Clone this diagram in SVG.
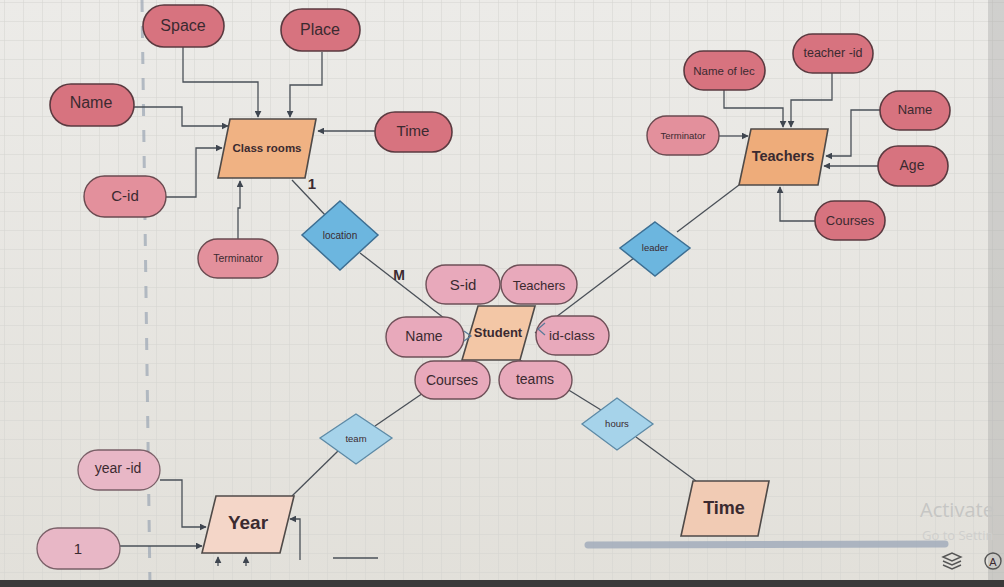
<svg xmlns="http://www.w3.org/2000/svg" width="1004" height="587" viewBox="0 0 1004 587">
<defs>
<pattern id="grid" width="19" height="19" patternUnits="userSpaceOnUse" x="4" y="2">
<path d="M19 0H0V19" fill="none" stroke="#d3d3cf" stroke-width="1"/>
</pattern>
<linearGradient id="bg" x1="0" y1="0" x2="0" y2="1">
<stop offset="0" stop-color="#ecebe8"/>
<stop offset="1" stop-color="#e2e0da"/>
</linearGradient>
<marker id="arr" viewBox="0 0 10 10" refX="9" refY="5" markerWidth="7" markerHeight="7" orient="auto" markerUnits="userSpaceOnUse">
<path d="M0 0L10 5L0 10z" fill="#3f4650"/>
</marker>
</defs>
<style>
.pd{fill:#d7737f;stroke:#5b3a40;stroke-width:1.6}
.pm{fill:#e3909c;stroke:#6a4a50;stroke-width:1.4}
.pl{fill:#e8a9bb;stroke:#6e5058;stroke-width:1.4}
.pv{fill:#e8b7c6;stroke:#7a6068;stroke-width:1.3}
.ent{stroke:#4f4a48;stroke-width:1.6}
.dia{fill:#6cb6df;stroke:#3d6f93;stroke-width:1.5}
.dial{fill:#a6d3ea;stroke:#5d8aa6;stroke-width:1.3}
.t{font-family:"Liberation Sans",Arial,sans-serif;fill:#3b2a30;text-anchor:middle;dominant-baseline:central}
.b{font-weight:bold}
.c{fill:none;stroke:#4a5058;stroke-width:1.3}
.ca{fill:none;stroke:#4a5058;stroke-width:1.3;marker-end:url(#arr)}
</style>
<rect width="1004" height="587" fill="url(#bg)"/>
<rect width="1004" height="587" fill="url(#grid)"/>
<line x1="142" y1="0" x2="150" y2="587" stroke="#9ba6b4" stroke-width="3" stroke-dasharray="12 14" opacity="0.7"/>
<rect x="988" y="0" width="16" height="587" fill="#9d9e9f" opacity="0.35"/>
<rect x="0" y="580" width="1004" height="7" fill="#3a3a3a"/>

<g id="connectors">
<path class="ca" d="M183 47V82H258V117"/>
<path class="ca" d="M322 52V85H290V117"/>
<path class="ca" d="M134 107H182V126H228"/>
<path class="ca" d="M375 131H318"/>
<path class="ca" d="M166 197H196V148H222"/>
<path class="ca" d="M238 239V208H240V181"/>
<path class="c" d="M292 180L326 216"/>
<path class="c" d="M360 253L462 332"/>
<path class="ca" d="M724 90V108H783V127"/>
<path class="ca" d="M832 73V100H791V127"/>
<path class="ca" d="M880 110H851V156H826"/>
<path class="ca" d="M719 136H748"/>
<path class="ca" d="M878 166H824"/>
<path class="ca" d="M815 221H780V187"/>
<path class="c" d="M739 185L677 232"/>
<path class="c" d="M634 258L535 333"/>
<path class="c" d="M445 378L375 426"/>
<path class="c" d="M338 451L292 496"/>
<path class="c" d="M520 360L601 410"/>
<path class="c" d="M636 437L696 481"/>
<path class="ca" d="M160 480H182V527H206"/>
<path class="ca" d="M120 546H202"/>
<path class="ca" d="M218 566V557"/>
<path class="ca" d="M246 566V557"/>
<path class="ca" d="M300 560V519H290"/>
<path class="c" d="M333 558H378" stroke="#777"/>
</g>

<g id="classrooms">
<path class="ent" d="M230 119H316L305 178H218Z" fill="#f0b283"/>
<text class="t b" x="267" y="148" font-size="11.5">Class rooms</text>
</g>
<g id="space"><rect class="pd" x="143" y="5" width="81" height="42" rx="21"/><text class="t" x="183" y="25" font-size="16">Space</text></g>
<g id="place"><rect class="pd" x="281" y="9" width="79" height="42" rx="21"/><text class="t" x="320" y="29" font-size="16">Place</text></g>
<g id="name-class"><rect class="pd" x="50" y="84" width="84" height="42" rx="21"/><text class="t" x="91" y="102" font-size="16">Name</text></g>
<g id="time-attr"><rect class="pd" x="375" y="112" width="77" height="40" rx="20"/><text class="t" x="413" y="130" font-size="15">Time</text></g>
<g id="cid"><rect class="pm" x="84" y="176" width="82" height="41" rx="20.5"/><text class="t" x="125" y="195" font-size="15">C-id</text></g>
<g id="terminator-class"><rect class="pm" x="198" y="239" width="80" height="39" rx="19.5"/><text class="t" x="238" y="258" font-size="10.5">Terminator</text></g>
<g id="location"><path class="dia" d="M340 201L378 235L340 270L302 235Z"/><text class="t" x="340" y="235" font-size="10" fill="#2d4a66">location</text></g>
<text class="t b" x="312" y="183" font-size="15" fill="#2b3038">1</text>
<text class="t b" x="399" y="275" font-size="14" fill="#2b3038">M</text>

<g id="teachers">
<path class="ent" d="M751 129H828L818 185H739Z" fill="#eeac7a"/>
<text class="t b" x="783" y="156" font-size="14.5">Teachers</text>
</g>
<g id="name-of-lec"><rect class="pd" x="684" y="51" width="81" height="39" rx="19.5"/><text class="t" x="724" y="71" font-size="11.5">Name  of lec</text></g>
<g id="teacher-id"><rect class="pd" x="793" y="34" width="80" height="39" rx="19.5"/><text class="t" x="833" y="53" font-size="12.5">teacher -id</text></g>
<g id="name-teacher"><rect class="pd" x="880" y="91" width="70" height="39" rx="19.5"/><text class="t" x="915" y="109" font-size="13">Name</text></g>
<g id="terminator-teacher"><rect class="pm" x="647" y="116" width="72" height="39" rx="19.5"/><text class="t" x="683" y="135" font-size="9.5">Terminator</text></g>
<g id="age"><rect class="pd" x="878" y="146" width="70" height="40" rx="20"/><text class="t" x="912" y="165" font-size="14">Age</text></g>
<g id="courses-teacher"><rect class="pd" x="815" y="201" width="70" height="39" rx="19.5"/><text class="t" x="850" y="220" font-size="13">Courses</text></g>
<g id="leader"><path class="dia" d="M655 222L690 248L655 276L620 248Z"/><text class="t" x="655" y="247" font-size="9.5" fill="#2d4a66">leader</text></g>

<g id="student">
<path class="ent" d="M478 306H535L520 360H462Z" fill="#f3c7a6"/>
<text class="t b" x="498" y="332" font-size="13">Student</text>
</g>
<g id="s-id"><rect class="pl" x="426" y="265" width="74" height="39" rx="19.5"/><text class="t" x="463" y="284" font-size="15">S-id</text></g>
<g id="teachers-attr"><rect class="pl" x="501" y="265" width="76" height="39" rx="19.5"/><text class="t" x="539" y="285" font-size="13">Teachers</text></g>
<g id="name-student"><rect class="pl" x="386" y="317" width="78" height="40" rx="20"/><text class="t" x="424" y="336" font-size="14">Name</text></g>
<g id="id-class"><rect class="pl" x="536" y="316" width="73" height="39" rx="19.5"/><text class="t" x="572" y="335" font-size="13.5">id-class</text></g>
<g id="courses-student"><rect class="pl" x="415" y="361" width="75" height="38" rx="19"/><text class="t" x="452" y="380" font-size="14">Courses</text></g>
<g id="teams"><rect class="pl" x="499" y="361" width="73" height="38" rx="19"/><text class="t" x="535" y="379" font-size="14">teams</text></g>
<path d="M464 331L471 336L464 341" fill="none" stroke="#5b7a99" stroke-width="1.3"/>
<path d="M545 323L538 329L545 335" fill="none" stroke="#5b7a99" stroke-width="1.3"/>

<g id="team"><path class="dial" d="M356 414L392 438L356 464L320 438Z"/><text class="t" x="356" y="438" font-size="9.5" fill="#2d4a66">team</text></g>
<g id="hours"><path class="dial" d="M617 398L653 424L617 450L582 424Z"/><text class="t" x="617" y="423" font-size="9.5" fill="#2d4a66">hours</text></g>

<g id="year">
<path class="ent" d="M216 496H294L280 553H202Z" fill="#f4d6c8" stroke="#66605c"/>
<text class="t b" x="248" y="522" font-size="19" fill="#3a3a44">Year</text>
</g>
<g id="year-id"><rect class="pv" x="78" y="450" width="82" height="40" rx="20"/><text class="t" x="118" y="468" font-size="14" fill="#4a4048">year -id</text></g>
<g id="one"><rect class="pv" x="37" y="528" width="83" height="41" rx="20.5"/><text class="t" x="78" y="548" font-size="15" fill="#4a4048">1</text></g>

<g id="time-entity">
<path class="ent" d="M693 481H769L758 536H681Z" fill="#f1cbb4" stroke="#66605c"/>
<text class="t b" x="724" y="508" font-size="18" fill="#3a3a44">Time</text>
</g>

<line x1="588" y1="545" x2="945" y2="544" stroke="#9aa6b8" stroke-width="7" stroke-linecap="round" opacity="0.75"/>
<text x="920" y="517" font-family="'Open Sans','Liberation Sans',sans-serif" font-size="20" fill="#c6c6c4">Activate</text>
<text x="922" y="540" font-family="'Open Sans','Liberation Sans',sans-serif" font-size="13" fill="#cfcfcd">Go to Settin</text>
<g fill="none" stroke="#555" stroke-width="1.4">
<path d="M943 557L952 553L961 557L952 561Z"/>
<path d="M943 561L952 565L961 561"/>
<path d="M943 565L952 569L961 565"/>
<circle cx="993" cy="561" r="8"/>
</g>
<text class="t" x="993" y="562" font-size="11" fill="#555">A</text>
</svg>
